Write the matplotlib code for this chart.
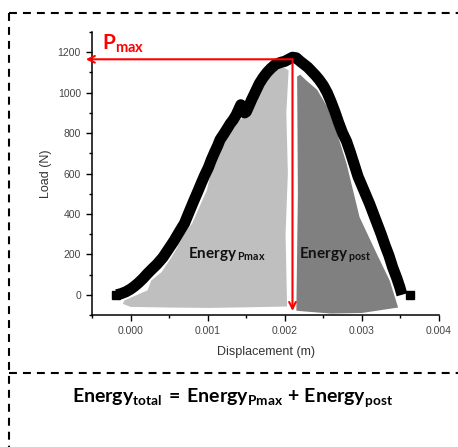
import matplotlib
matplotlib.use("Agg")
import matplotlib.pyplot as plt
from matplotlib.lines import Line2D
from matplotlib.ticker import MultipleLocator

plt.rcParams['mathtext.fontset'] = 'custom'
plt.rcParams['mathtext.rm'] = 'Lato'
plt.rcParams['mathtext.bf'] = 'Lato:bold'

# load-displacement curve
disp = [-0.00018, -0.00012, -0.00006, 0.0, 0.00005, 0.0001, 0.00016, 0.00022,
        0.00028, 0.00034, 0.00042, 0.00049, 0.00056, 0.00063, 0.0007, 0.00076,
        0.00082, 0.00088, 0.00092, 0.00096, 0.00101, 0.00105, 0.00109, 0.00113,
        0.00116, 0.0012, 0.00125, 0.00129, 0.00133, 0.00137, 0.0014, 0.00143,
        0.00146, 0.00148, 0.0015, 0.00153, 0.00157, 0.00162, 0.00167, 0.00172,
        0.00177, 0.00182, 0.00188, 0.00195, 0.002, 0.00205, 0.0021, 0.00215,
        0.0022, 0.00225, 0.0023, 0.00235, 0.0024, 0.00245, 0.0025, 0.00255,
        0.0026, 0.00265, 0.0027, 0.00275, 0.0028, 0.00285, 0.0029, 0.00295,
        0.003, 0.00305, 0.0031, 0.00315, 0.0032, 0.00325, 0.0033, 0.00335,
        0.0034, 0.00345, 0.00349, 0.00352]
load = [0, 6, 15, 28, 42, 58, 80, 105, 128, 150, 185, 225, 265, 310, 354, 410,
        465, 518, 555, 590, 630, 670, 705, 738, 767, 790, 820, 845, 865, 890,
        915, 940, 920, 900, 905, 930, 965, 1005, 1045, 1075, 1100, 1120, 1140,
        1150, 1155, 1165, 1175, 1172, 1155, 1140, 1125, 1105, 1085, 1062, 1035,
        1000, 955, 905, 850, 800, 760, 705, 645, 585, 540, 495, 450, 400, 350,
        300, 245, 195, 135, 85, 40, 0]
end_disp = [-0.00019, 0.00363]
end_load = [0, 0]

# shaded areas (energy up to Pmax / after Pmax)
pre_x = [-0.0001, -0.00008, 0.00022, 0.00027, 0.0004, 0.00053, 0.0006, 0.0007,
         0.0008, 0.00099, 0.00105, 0.0012, 0.00142, 0.00147, 0.0015, 0.00164,
         0.0018, 0.0019, 0.00197, 0.00205, 0.00202, 0.00204, 0.00201, 0.00203,
         0.0015, 0.001, 0.0005, 0.0, -0.0001]
pre_y = [-45, -28, 22, 71, 111, 185, 230, 305, 354, 518, 617, 750, 866, 880, 900,
         1014, 1080, 1113, 1128, 1110, 900, 600, 300, -58, -62, -65, -63, -60, -45]
post_x = [0.00215, 0.00217, 0.00216, 0.0022, 0.00228, 0.00242, 0.00255, 0.00268,
          0.0028, 0.00297, 0.00319, 0.00336, 0.00347, 0.003, 0.0026, 0.00218]
post_y = [-78, 500, 1080, 1089, 1060, 1014, 930, 798, 650, 384, 205, 71, -63, -90,
          -93, -80]

pmax_disp = 0.0021
pmax_load = 1165

fig = plt.figure(figsize=(4.58, 4.47), dpi=100)
ax = fig.add_axes([0.2009, 0.2953, 0.7576, 0.6331])

ax.fill(pre_x, pre_y, color='#bfbfbf', lw=0, zorder=1)
ax.fill(post_x, post_y, color='#808080', lw=0, zorder=1)
ax.plot(disp, load, color='black', lw=8, solid_joinstyle='round',
        solid_capstyle='butt', zorder=3)
ax.plot(end_disp, end_load, ls='none', marker='s', ms=6, color='black', zorder=3)

arrow = dict(arrowstyle='->', color='red', lw=1.5, shrinkA=0, shrinkB=0,
             mutation_scale=12)
ax.annotate('', xy=(-0.00058, pmax_load), xytext=(pmax_disp, pmax_load),
            arrowprops=arrow, annotation_clip=False, zorder=5)
ax.annotate('', xy=(pmax_disp, -80), xytext=(pmax_disp, pmax_load),
            arrowprops=arrow, annotation_clip=False, zorder=5)

ax.text(-0.00037, 1212, r'$\mathbf{P}_{\mathbf{max}}$', color='red', fontsize=15,
        ha='left', va='baseline', clip_on=False)
ax.text(0.00074, 180, r'$\mathbf{Energy}_{\mathbf{\,Pmax}}$', color='#111111',
        fontsize=11, ha='left', va='baseline')
ax.text(0.00219, 180, r'$\mathbf{Energy}_{\mathbf{\,post}}$', color='#111111',
        fontsize=11, ha='left', va='baseline')

ax.set_xlim(-0.0005, 0.004)
ax.set_ylim(-100, 1300)
ax.xaxis.set_major_locator(MultipleLocator(0.001))
ax.xaxis.set_minor_locator(MultipleLocator(0.0005))
ax.yaxis.set_major_locator(MultipleLocator(200))
ax.yaxis.set_minor_locator(MultipleLocator(100))
ax.set_xticks([0.0, 0.001, 0.002, 0.003, 0.004])
ax.set_xticklabels(['0.000', '0.001', '0.002', '0.003', '0.004'])
for s in ['top', 'right']:
    ax.spines[s].set_visible(False)
for s in ['left', 'bottom']:
    ax.spines[s].set_linewidth(1.1)
ax.tick_params(which='major', length=4, width=1, labelsize=7.5,
               labelcolor='#444444', pad=4)
ax.tick_params(which='minor', length=2.5, width=1)
for lab in ax.get_xticklabels() + ax.get_yticklabels():
    lab.set_family('Liberation Sans')

ax.set_xlabel('Displacement (m)', fontsize=9, color='#333333',
              family='Liberation Sans', labelpad=7)
ax.set_ylabel('Load (N)', fontsize=9, color='#333333',
              family='Liberation Sans', labelpad=4)

# dashed frame
dash = dict(color='black', lw=1.5, ls=(0, (3.8, 2.9)), transform=fig.transFigure)
x0 = 9 / 458
fig.add_artist(Line2D([x0, 1.0], [1 - 13 / 447] * 2, **dash))
fig.add_artist(Line2D([x0, x0], [1 - 13 / 447, 0.0], **dash))
fig.add_artist(Line2D([x0, 1.0], [1 - 373 / 447] * 2, **dash))

fig.text(0.507, 0.1, r'$\mathbf{Energy}_{\mathbf{total}}\,\mathbf{=}\,\mathbf{Energy}_{\mathbf{Pmax}}'
         r'\;\mathbf{+}\;\mathbf{Energy}_{\mathbf{post}}$', fontsize=14, color='black',
         ha='center', va='baseline')

fig.savefig('out.png', dpi=100)
